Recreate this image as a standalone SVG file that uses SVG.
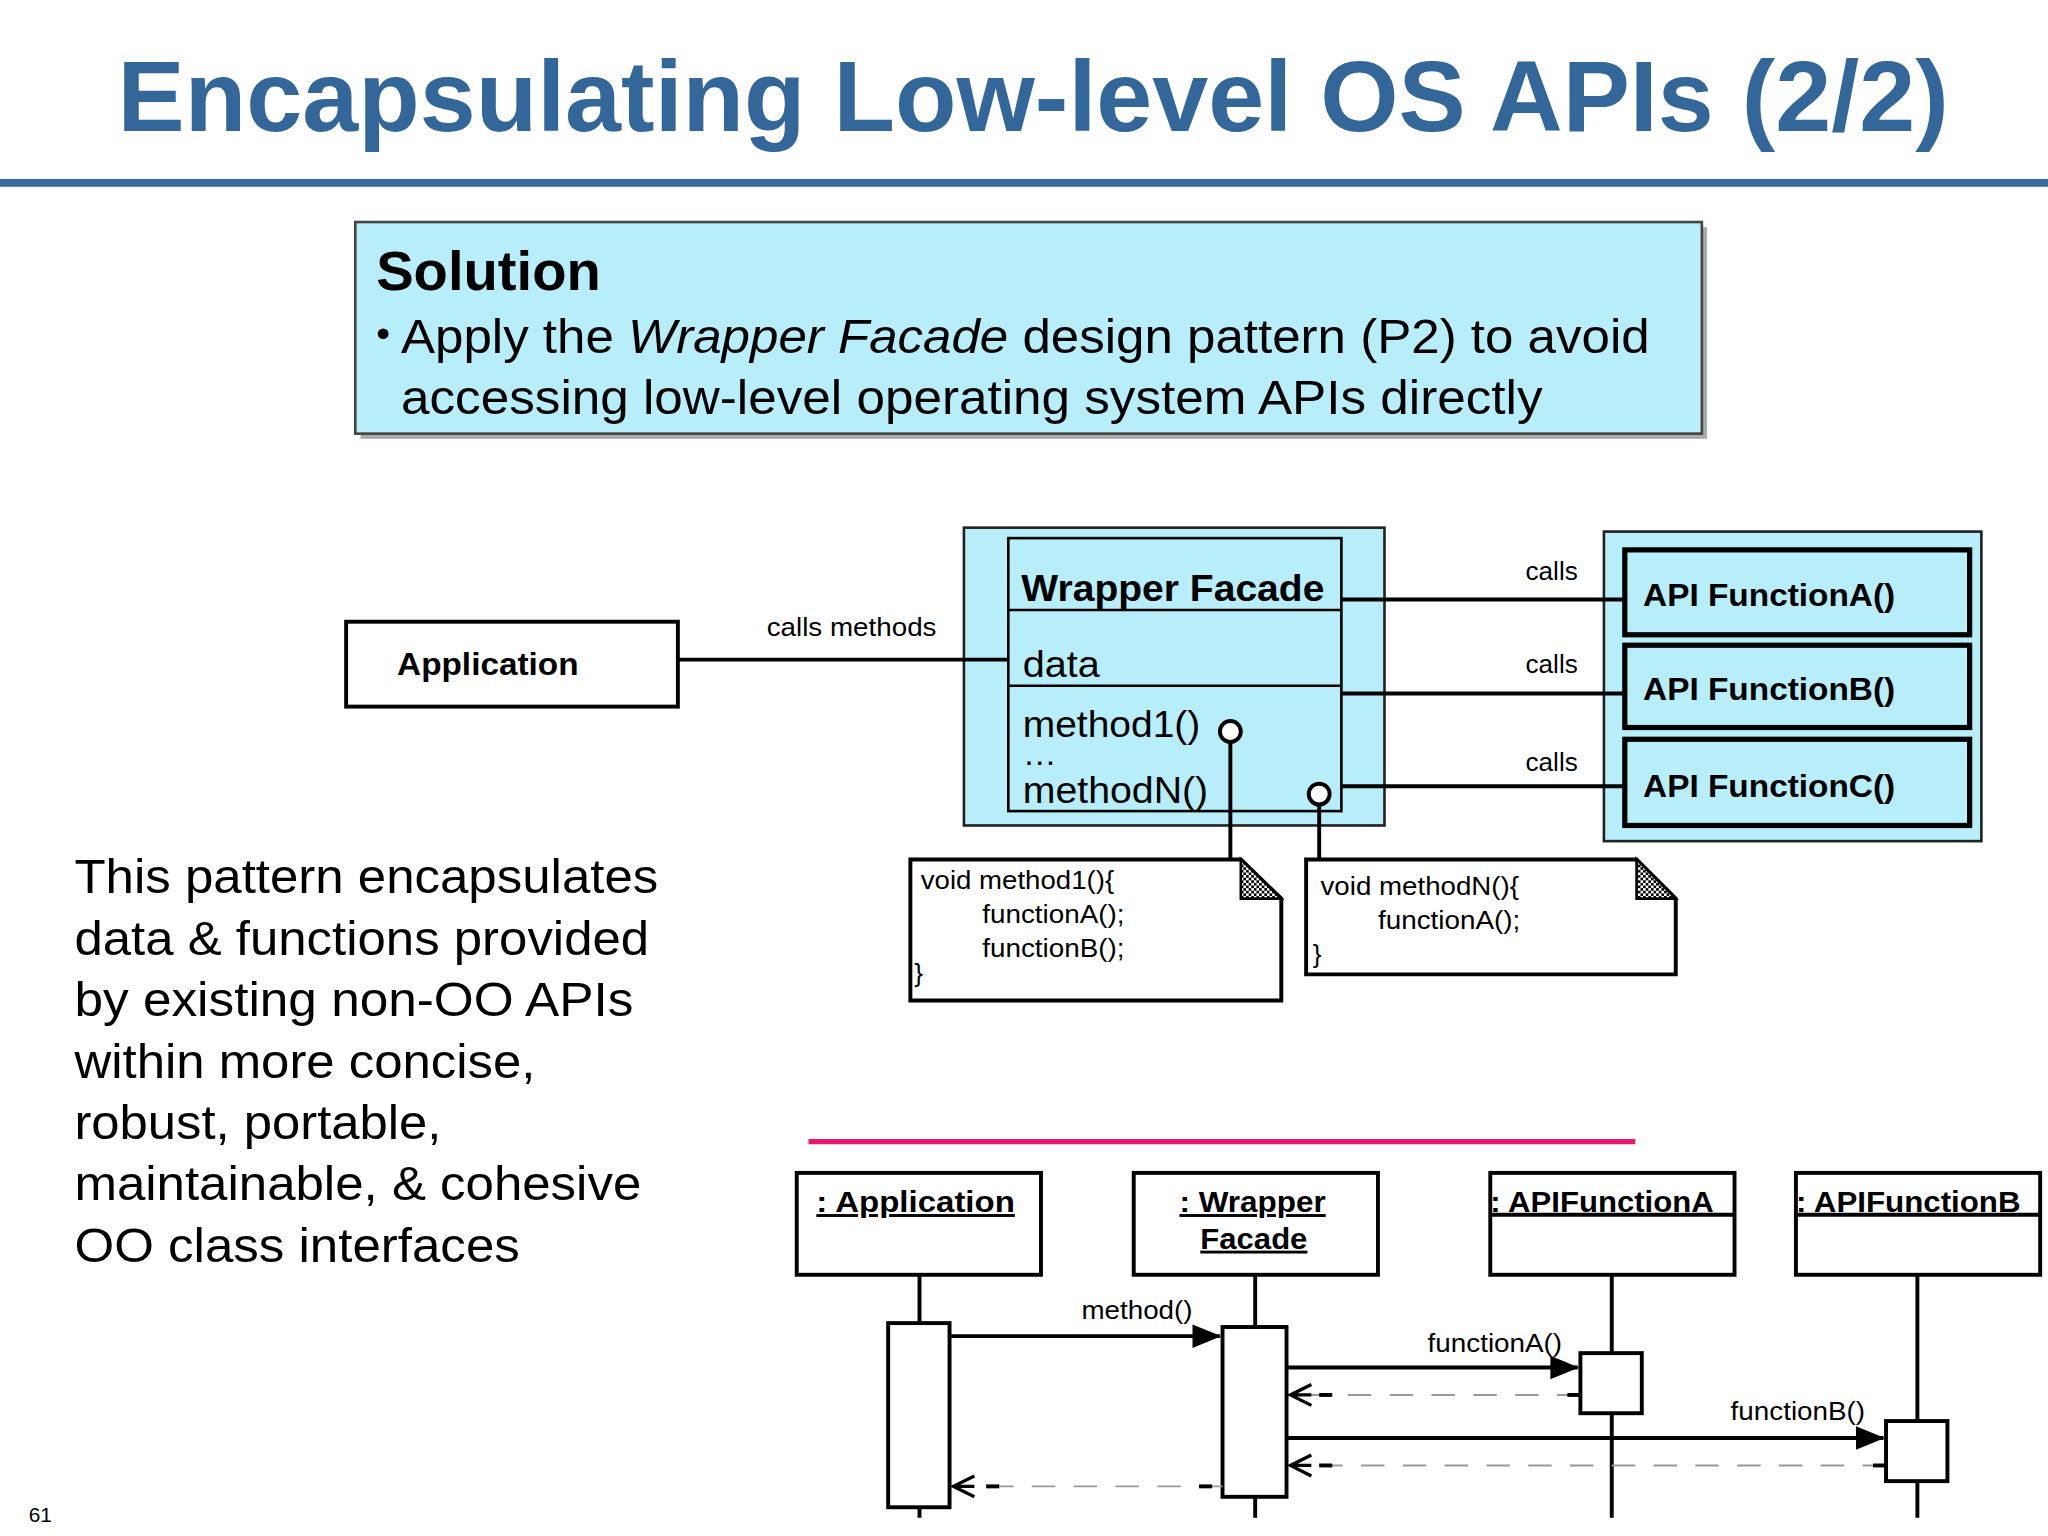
<svg xmlns="http://www.w3.org/2000/svg" width="2048" height="1536" viewBox="0 0 2048 1536">
<defs>
<style>
text{font-family:"Liberation Sans",Arial,sans-serif;fill:#000}
.b{font-weight:bold}
.ln{stroke:#000;stroke-width:3;fill:none}
.bx{stroke:#000;stroke-width:3;fill:#fff}
.cy{fill:#b8eefa;stroke:#222;stroke-width:2}
.ret{stroke:#999;stroke-width:1.5;stroke-dasharray:18 14;fill:none}
</style>
<marker id="fa" markerWidth="22" markerHeight="18" refX="21" refY="9" orient="auto" markerUnits="userSpaceOnUse" viewBox="0 0 22 18"><path d="M0,0 L22,9 L0,18 Z" fill="#000"/></marker>
<marker id="oa" markerWidth="20" markerHeight="20" refX="18" refY="10" orient="auto" markerUnits="userSpaceOnUse" viewBox="0 0 20 20"><path d="M2,2 L18,10 L2,18 M2,10 L18,10" fill="none" stroke="#000" stroke-width="2.5"/></marker>
<pattern id="chk" width="4" height="4" patternUnits="userSpaceOnUse"><rect width="4" height="4" fill="#fff"/><rect width="2" height="2" fill="#000"/><rect x="2" y="2" width="2" height="2" fill="#000"/></pattern>
</defs>
<rect width="2048" height="1536" fill="#fff"/>
<g transform="scale(1.30612)">
<text x="90" y="100" class="b" font-size="77" textLength="1402" lengthAdjust="spacingAndGlyphs" style="fill:#336699">Encapsulating Low-level OS APIs (2/2)</text>
<rect x="0" y="137" width="1568" height="6" fill="#3a6a9e"/>
<g id="solution">
<rect x="276" y="174" width="1031" height="162" fill="#aaa"/>
<rect x="272" y="170" width="1031" height="162" fill="#b8eefa" stroke="#444" stroke-width="2"/>
<text x="288" y="222" class="b" font-size="42" textLength="172" lengthAdjust="spacingAndGlyphs">Solution</text>
<text x="288" y="266" font-size="30">•</text>
<text x="307" y="270" font-size="37" textLength="956" lengthAdjust="spacingAndGlyphs">Apply the <tspan font-style="italic">Wrapper Facade</tspan> design pattern (P2) to avoid</text>
<text x="307" y="317" font-size="37" textLength="874" lengthAdjust="spacingAndGlyphs">accessing low-level operating system APIs directly</text>
</g>
<g id="application">
<rect x="265" y="476" width="254" height="65" class="bx"/>
<text x="304" y="517" class="b" font-size="24" textLength="139" lengthAdjust="spacingAndGlyphs">Application</text>
</g>
<g id="wrapperfacade">
<rect x="738" y="404" width="322" height="228" class="cy"/>
<rect x="772" y="412" width="255" height="209" fill="none" stroke="#000" stroke-width="2"/>
<line x1="772" y1="467" x2="1027" y2="467" stroke="#000" stroke-width="2"/>
<line x1="772" y1="525" x2="1027" y2="525" stroke="#000" stroke-width="2"/>
<text x="782" y="460" class="b" font-size="28" textLength="232" lengthAdjust="spacingAndGlyphs">Wrapper Facade</text>
<text x="783" y="518" font-size="28" textLength="59" lengthAdjust="spacingAndGlyphs">data</text>
<text x="783" y="564" font-size="28" textLength="136" lengthAdjust="spacingAndGlyphs">method1()</text>
<text x="783" y="586" font-size="26">…</text>
<text x="783" y="615" font-size="28" textLength="142" lengthAdjust="spacingAndGlyphs">methodN()</text>
</g>
<g id="apis">
<rect x="1228" y="407" width="289" height="237" class="cy"/>
<rect x="1244" y="421" width="264" height="65" fill="none" stroke="#000" stroke-width="4"/>
<rect x="1244" y="494" width="264" height="63" fill="none" stroke="#000" stroke-width="4"/>
<rect x="1244" y="566" width="264" height="66" fill="none" stroke="#000" stroke-width="4"/>
<text x="1258" y="464" class="b" font-size="24" textLength="193" lengthAdjust="spacingAndGlyphs">API FunctionA()</text>
<text x="1258" y="536" class="b" font-size="24" textLength="193" lengthAdjust="spacingAndGlyphs">API FunctionB()</text>
<text x="1258" y="610" class="b" font-size="24" textLength="193" lengthAdjust="spacingAndGlyphs">API FunctionC()</text>
</g>
<g id="note1">
<path d="M697,658 H950 L981,688 V766 H697 Z" class="bx"/>
<path d="M950,658 V688 H981 Z" fill="url(#chk)" stroke="#000" stroke-width="2"/>
<text x="705" y="681" font-size="20" textLength="148" lengthAdjust="spacingAndGlyphs">void method1(){</text>
<text x="752" y="707" font-size="20" textLength="109" lengthAdjust="spacingAndGlyphs">functionA();</text>
<text x="752" y="733" font-size="20" textLength="109" lengthAdjust="spacingAndGlyphs">functionB();</text>
<text x="700" y="752" font-size="20">}</text>
</g>
<g id="note2">
<path d="M1000,658 H1253 L1283,688 V746 H1000 Z" class="bx"/>
<path d="M1253,658 V688 H1283 Z" fill="url(#chk)" stroke="#000" stroke-width="2"/>
<text x="1011" y="685" font-size="20" textLength="152" lengthAdjust="spacingAndGlyphs">void methodN(){</text>
<text x="1055" y="711" font-size="20" textLength="109" lengthAdjust="spacingAndGlyphs">functionA();</text>
<text x="1005" y="737" font-size="20">}</text>
</g>
<g id="connectors">
<line x1="519" y1="505" x2="772" y2="505" class="ln"/>
<text x="587" y="487" font-size="20" textLength="130" lengthAdjust="spacingAndGlyphs">calls methods</text>
<line x1="1027" y1="459" x2="1244" y2="459" class="ln"/>
<line x1="1027" y1="531" x2="1244" y2="531" class="ln"/>
<line x1="1027" y1="602" x2="1244" y2="602" class="ln"/>
<text x="1168" y="444" font-size="20">calls</text>
<text x="1168" y="515" font-size="20">calls</text>
<text x="1168" y="590" font-size="20">calls</text>
<line x1="942" y1="568" x2="942" y2="658" class="ln"/>
<line x1="1010" y1="616" x2="1010" y2="658" class="ln"/>
<circle cx="942" cy="560" r="8" fill="#fff" stroke="#000" stroke-width="3"/>
<circle cx="1010" cy="608" r="8" fill="#fff" stroke="#000" stroke-width="3"/>
</g>
<g font-size="37">
<text x="57" y="684" textLength="447" lengthAdjust="spacingAndGlyphs">This pattern encapsulates</text>
<text x="57" y="731" textLength="440" lengthAdjust="spacingAndGlyphs">data &amp; functions provided</text>
<text x="57" y="778" textLength="428" lengthAdjust="spacingAndGlyphs">by existing non-OO APIs</text>
<text x="57" y="825" textLength="353" lengthAdjust="spacingAndGlyphs">within more concise,</text>
<text x="57" y="872" textLength="281" lengthAdjust="spacingAndGlyphs">robust, portable,</text>
<text x="57" y="919" textLength="434" lengthAdjust="spacingAndGlyphs">maintainable, &amp; cohesive</text>
<text x="57" y="966" textLength="341" lengthAdjust="spacingAndGlyphs">OO class interfaces</text>
</g>
<line x1="619" y1="874" x2="1252" y2="874" stroke="#e8196b" stroke-width="4"/>
<g id="seq-app">
<rect x="610" y="898" width="187" height="78" class="bx"/>
<text x="625" y="928" class="b" font-size="22" text-decoration="underline" textLength="152" lengthAdjust="spacingAndGlyphs">: Application</text>
</g>
<g id="seq-wf">
<rect x="868" y="898" width="187" height="78" class="bx"/>
<text x="903" y="928" class="b" font-size="22" text-decoration="underline" textLength="112" lengthAdjust="spacingAndGlyphs">: Wrapper</text>
<text x="919" y="956" class="b" font-size="22" text-decoration="underline" textLength="82" lengthAdjust="spacingAndGlyphs">Facade</text>
</g>
<g id="seq-a">
<rect x="1141" y="898" width="187" height="78" class="bx"/>
<line x1="1141" y1="930" x2="1328" y2="930" class="ln"/>
<text x="1141" y="928" class="b" font-size="22" textLength="171" lengthAdjust="spacingAndGlyphs">: APIFunctionA</text>
</g>
<g id="seq-b">
<rect x="1375" y="898" width="187" height="78" class="bx"/>
<line x1="1375" y1="930" x2="1562" y2="930" class="ln"/>
<text x="1375" y="928" class="b" font-size="22" textLength="172" lengthAdjust="spacingAndGlyphs">: APIFunctionB</text>
</g>
<g id="seq-lines">
<line x1="704" y1="976" x2="704" y2="1162" class="ln"/>
<line x1="961" y1="976" x2="961" y2="1162" class="ln"/>
<line x1="1234" y1="976" x2="1234" y2="1162" class="ln"/>
<line x1="1468" y1="976" x2="1468" y2="1162" class="ln"/>
<rect x="680" y="1013" width="47" height="141" class="bx"/>
<rect x="936" y="1016" width="49" height="130" class="bx"/>
<rect x="1210" y="1036" width="47" height="46" class="bx"/>
<rect x="1444" y="1088" width="47" height="46" class="bx"/>
<line x1="727" y1="1023" x2="934" y2="1023" class="ln" marker-end="url(#fa)"/>
<line x1="985" y1="1047" x2="1208" y2="1047" class="ln" marker-end="url(#fa)"/>
<line x1="985" y1="1101" x2="1442" y2="1101" class="ln" marker-end="url(#fa)"/>
<text x="828" y="1010" font-size="20" textLength="85" lengthAdjust="spacingAndGlyphs">method()</text>
<text x="1093" y="1035" font-size="20" textLength="103" lengthAdjust="spacingAndGlyphs">functionA()</text>
<text x="1325" y="1087" font-size="20" textLength="103" lengthAdjust="spacingAndGlyphs">functionB()</text>
<line x1="1210" y1="1068" x2="988" y2="1068" class="ret" marker-end="url(#oa)"/>
<line x1="1444" y1="1122" x2="988" y2="1122" class="ret" marker-end="url(#oa)"/>
<line x1="936" y1="1138" x2="730" y2="1138" class="ret" marker-end="url(#oa)"/>
<line x1="1010" y1="1068" x2="1020" y2="1068" class="ln"/>
<line x1="1200" y1="1068" x2="1210" y2="1068" class="ln"/>
<line x1="1010" y1="1122" x2="1020" y2="1122" class="ln"/>
<line x1="1434" y1="1122" x2="1444" y2="1122" class="ln"/>
<line x1="755" y1="1138" x2="765" y2="1138" class="ln"/>
<line x1="918" y1="1138" x2="928" y2="1138" class="ln"/>
</g>
<text x="22" y="1165" font-size="16">61</text>
</g>
</svg>
